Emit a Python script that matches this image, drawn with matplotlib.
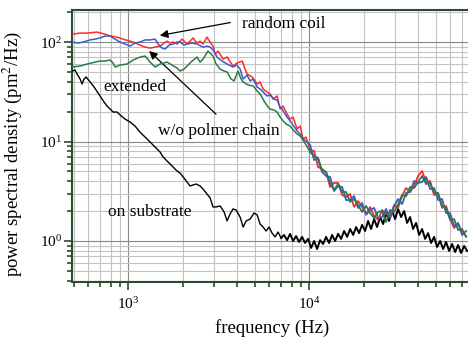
import matplotlib
matplotlib.use("Agg")
import matplotlib.pyplot as plt

plt.rcParams['font.family'] = ['Liberation Serif', 'DejaVu Serif']
plt.rcParams['mathtext.fontset'] = 'stix'

# low frequency part of each spectrum (Hz, pm^2/Hz)
red_f_lo = [491, 543, 594, 674, 746, 796, 869, 938, 1066, 1165, 1241, 1323, 1410, 1503,
            1581, 1642, 1707, 1773, 1865, 1988, 2117, 2201, 2284, 2405, 2500, 2595, 2728,
            2839, 2947, 3021, 3142, 3348, 3523, 3800, 3996, 4267, 4431, 4545, 4843, 5163,
            5363, 5571, 5858, 6091, 6328, 6655, 6917, 7185, 7556, 7855, 8157, 8587, 8921,
            9263, 9625]
red_p_lo = [120, 123, 123, 126, 120, 115, 112, 107, 100, 93.3, 89, 87, 89, 91, 97.7, 102,
            97.7, 100, 95.5, 107, 95.5, 102, 110, 97.7, 102, 95.5, 112, 100, 91.1, 75.7,
            81.1, 67.5, 70.6, 57.4, 61.5, 64.4, 53.5, 47.7, 44.6, 37.9, 39.7, 33.7, 31.5,
            30.1, 26.7, 28.7, 21.2, 22.7, 18.9, 16.8, 17.6, 13.4, 14.3, 10.6, 11.1]

blue_f_lo = [491, 530, 564, 617, 657, 700, 746, 796, 848, 903, 963, 1026, 1093, 1165, 1241,
             1323, 1410, 1465, 1541, 1600, 1684, 1773, 1865, 1938, 2039, 2117, 2257, 2405,
             2595, 2728, 2839, 2986, 3098, 3306, 3523, 3800, 3996, 4159, 4323, 4545, 4723,
             4908, 5163, 5363, 5571, 5858, 6091, 6407, 6655, 6917, 7095, 7368, 7556, 7855,
             8157, 8587, 8921, 9263, 9625]
blue_p_lo = [100, 97.7, 100, 105, 107, 110, 115, 115, 107, 100, 95.5, 91.1, 97.7, 100, 105,
             105, 107, 95.5, 87, 85, 93.3, 95.5, 100, 100, 93.3, 95.5, 97.7, 95.5, 89, 91.1,
             89, 81.1, 70.6, 64.4, 60.1, 56.1, 58.7, 53.5, 42.5, 46.6, 40.6, 42.5, 35.3,
             33.7, 31.5, 28.7, 29.3, 26.7, 26.1, 22.2, 21.2, 18.9, 17.6, 16.1, 14.6, 12.8,
             11.9, 10.6, 10.1]

green_f_lo = [491, 543, 594, 657, 700, 746, 796, 826, 848, 903, 987, 1066, 1165, 1241, 1323,
              1410, 1503, 1642, 1751, 1865, 1938, 2039, 2117, 2257, 2405, 2500, 2595, 2763,
              2875, 2947, 3064, 3224, 3391, 3523, 3708, 3851, 4048, 4210, 4323, 4603, 4908,
              5163, 5363, 5641, 5936, 6091, 6407, 6655, 6917, 7185, 7462, 7855, 8157, 8587,
              8921, 9263, 9625]
green_p_lo = [56.1, 57.4, 60.1, 62.9, 64.4, 64.4, 65.9, 61.5, 56.1, 58.7, 60.1, 65.9, 70.6,
              72.3, 62.9, 56.1, 60.1, 62.9, 58.7, 54.8, 51.1, 53.5, 57.4, 64.4, 70.6, 62.9,
              67.5, 81.1, 75.7, 72.3, 60.1, 53.5, 51.1, 50.0, 42.5, 40.6, 51.1, 42.5, 39.7,
              37.0, 36.2, 32.2, 30.1, 25.5, 22.2, 21.2, 20.7, 19.8, 17.6, 16.1, 15.0, 14.3,
              13.1, 11.9, 11.4, 10.35, 9.22]

# high frequency part, shared frequency samples
hf_freq = [10130, 10660, 11210, 11800, 12410, 13060, 13740, 14460, 15220, 16010, 16850,
           17730, 18650, 19630, 20650, 21730, 22870, 24060, 25320, 26640, 28030, 29490,
           31030, 32650, 34360, 36140, 38030, 40020, 42110, 44310, 46620, 49050, 51610,
           54310, 57140, 60120, 63260, 66560, 70030, 73690]
red_p_hi = [8.21, 8.03, 5.54, 5.29, 4.94, 3.49, 3.83, 3.83, 2.90, 2.77, 2.97, 2.20, 2.52,
            2.20, 1.87, 2.20, 1.78, 1.63, 2.05, 1.87, 1.74, 2.30, 2.15, 2.83, 3.41, 3.11,
            3.57, 4.50, 5.05, 3.92, 4.01, 2.90, 2.97, 2.15, 2.25, 1.66, 1.35, 1.48, 1.23, 1.12]
blue_p_hi = [9.22, 6.52, 6.67, 4.94, 4.50, 4.40, 3.18, 3.57, 3.49, 2.58, 2.58, 2.83, 2.15,
             2.41, 1.83, 2.05, 2.15, 1.70, 1.74, 2.10, 1.70, 2.25, 2.64, 2.35, 3.04, 3.11,
             4.01, 3.83, 3.92, 4.40, 3.33, 3.41, 2.58, 2.64, 1.91, 1.91, 1.41, 1.52, 1.15, 1.26]
green_p_hi = [7.84, 7.15, 6.83, 5.05, 4.94, 3.83, 3.26, 3.74, 3.11, 3.11, 2.47, 2.64, 2.30,
              1.96, 2.25, 1.91, 1.70, 1.96, 2.00, 1.55, 2.05, 1.96, 2.35, 2.90, 2.83, 3.49,
              3.41, 3.92, 4.50, 3.74, 3.83, 3.04, 3.04, 2.25, 2.15, 1.63, 1.66, 1.29, 1.32, 1.10]

# on substrate
black_f = [491, 509, 523, 543, 557, 571, 586, 617, 649, 700, 737, 766, 796, 826, 869, 903,
           963, 1026, 1093, 1165, 1241, 1323, 1410, 1503, 1561, 1642, 1707, 1773, 1865,
           1938, 2014, 2117, 2201, 2284, 2375, 2500, 2595, 2728, 2839, 2947, 3064, 3224,
           3391, 3523, 3662, 3800, 3951, 4159, 4323, 4486, 4723, 4967, 5163, 5363, 5571,
           5786, 6012, 6246, 6490, 6741, 7004, 7276, 7556, 7855, 8157, 8476, 8808, 9148,
           9500, 9874, 10260, 10660, 11070, 11500, 11950, 12410, 12900, 13400, 13930,
           14460, 15030, 15610, 16230, 16860, 17520, 18190, 18890, 19630, 20400, 21180,
           22000, 22870, 23750, 24690, 25650, 26640, 27670, 28750, 29870, 31030, 32240,
           33490, 34800, 36140, 37560, 39020, 40530, 42110, 43760, 45450, 47210, 49050,
           50970, 52970, 55030, 57140, 59370, 61660, 64100, 66560, 69160, 71860, 74670]
black_p = [51.1, 52.3, 47.7, 42.5, 37.9, 42.5, 44.6, 39.7, 35.3, 28.7, 24.9, 22.7, 21.2,
           19.8, 19.8, 18.5, 16.8, 15.7, 14.3, 12.4, 11.1, 9.89, 8.80, 7.84, 6.99, 6.37,
           5.94, 5.54, 5.05, 4.82, 4.40, 3.92, 3.57, 3.66, 3.74, 3.57, 3.33, 2.97, 2.71,
           2.20, 2.20, 2.25, 1.96, 1.59, 1.87, 2.10, 2.05, 1.74, 1.38, 1.59, 1.66, 1.91,
           1.83, 1.48, 1.38, 1.26, 1.38, 1.20, 1.10, 1.23, 1.07, 1.15, 1.02, 1.18, 1.00,
           1.12, 0.977, 1.10, 0.955, 1.05, 0.851, 1.00, 0.831, 1.02, 0.933, 1.10, 0.955,
           1.15, 1.00, 1.18, 1.05, 1.26, 1.10, 1.32, 1.15, 1.38, 1.20, 1.45, 1.26, 1.59,
           1.32, 1.66, 1.38, 1.74, 1.48, 1.91, 1.59, 2.00, 1.66, 2.10, 1.74, 2.00, 1.52,
           1.74, 1.32, 1.52, 1.15, 1.32, 1.05, 1.20, 0.955, 1.10, 0.871, 1.00, 0.831, 0.977,
           0.793, 0.933, 0.775, 0.912, 0.758, 0.891, 0.793]

frame = '#2b4a2e'

fig = plt.figure(figsize=(4.68, 3.42), dpi=100)
ax = fig.add_axes([72/468, 60/342, 396/468, 272/342])

# noisy high-frequency tail drawn a bit heavier, like the dense raw spectrum
cut = 60
ax.plot(black_f[:cut + 1], black_p[:cut + 1], color='black', lw=1.0, zorder=3)
ax.plot(black_f[cut:], black_p[cut:], color='black', lw=1.4, zorder=3)
series = [(red_f_lo, red_p_lo, red_p_hi, '#ff2a2a', 4),
          (blue_f_lo, blue_p_lo, blue_p_hi, '#3a5bc8', 5),
          (green_f_lo, green_p_lo, green_p_hi, '#2a7a45', 6)]
for f_lo, p_lo, p_hi, col, z in series:
    ax.plot(f_lo + hf_freq[:1], p_lo + p_hi[:1], color=col, lw=1.1, zorder=z)
    ax.plot(hf_freq, p_hi, color=col, lw=1.3, zorder=z)

ax.set_xscale('log')
ax.set_yscale('log')
ax.set_xlim(490, 75500)
ax.set_ylim(0.387, 210)

ax.grid(which='major', color='#888888', lw=0.8, zorder=0)
ax.grid(which='minor', color='#c2c2c2', lw=0.8, zorder=0)
ax.set_axisbelow(True)

for s in ['left', 'bottom', 'top']:
    ax.spines[s].set_color(frame)
    ax.spines[s].set_linewidth(1.5)
ax.spines['right'].set_visible(False)
ax.tick_params(which='major', direction='out', length=5.8, width=1.2, color=frame,
               labelsize=11)
ax.tick_params(which='minor', direction='out', length=3.6, width=1.2, color=frame,
               labelleft=False, labelbottom=False)
ax.tick_params(axis='x', which='major', pad=4)
ax.tick_params(axis='y', which='major', pad=1.5)

ax.set_xlabel('frequency (Hz)', fontsize=13.5)
ax.set_ylabel('power spectral density (pm$^2$/Hz)', fontsize=13.5)
ax.xaxis.set_label_coords(0.506, -0.135)
ax.yaxis.set_label_coords(-0.122, 0.47)

ax.text(4264, 152, 'random coil', fontsize=12.5, ha='left', va='center')
ax.text(1465, 12.75, 'w/o polmer chain', fontsize=12.5, ha='left', va='center')
ax.text(728, 35.3, 'extended', fontsize=12.5, ha='left', va='center')
ax.text(775, 1.96, 'on substrate', fontsize=12.5, ha='left', va='center')

ax.annotate('', xy=(1446, 115), xytext=(3803, 159),
            arrowprops=dict(arrowstyle='-|>', color='black', lw=0.9, mutation_scale=12))
ax.annotate('', xy=(1274, 85), xytext=(3142, 18.0),
            arrowprops=dict(arrowstyle='-|>', color='black', lw=0.9, mutation_scale=12))

plt.savefig('out.png', dpi=100)
